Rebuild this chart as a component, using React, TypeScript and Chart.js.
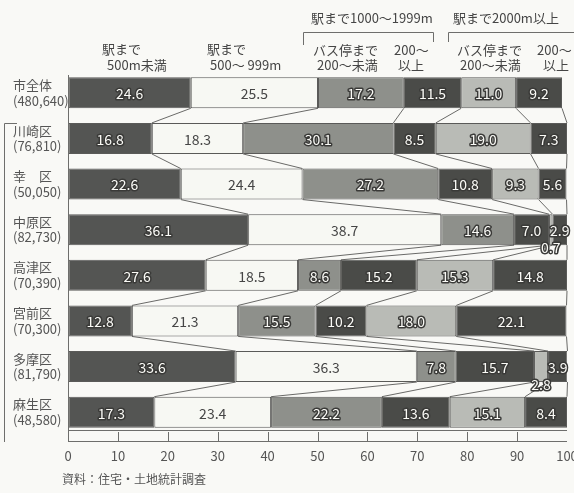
import { useEffect, useRef } from "react";
import { Chart, registerables } from "chart.js";

Chart.register(...registerables);

const FONT = '"Noto Sans CJK JP", "Noto Sans", sans-serif';

// 区名と世帯数
const districts: string[][] = [
  ["市全体", "(480,640)"],
  ["川崎区", "(76,810)"],
  ["幸　区", "(50,050)"],
  ["中原区", "(82,730)"],
  ["高津区", "(70,390)"],
  ["宮前区", "(70,300)"],
  ["多摩区", "(81,790)"],
  ["麻生区", "(48,580)"],
];

// 駅までの距離・バス停までの距離別の割合 (%)
const station500Under = [24.6, 16.8, 22.6, 36.1, 27.6, 12.8, 33.6, 17.3];
const station500To999 = [25.5, 18.3, 24.4, 38.7, 18.5, 21.3, 36.3, 23.4];
const station1000BusNear = [17.2, 30.1, 27.2, 14.6, 8.6, 15.5, 7.8, 22.2];
const station1000BusFar = [11.5, 8.5, 10.8, 7.0, 15.2, 10.2, 15.7, 13.6];
const station2000BusNear = [11.0, 19.0, 9.3, 0.7, 15.3, 18.0, 2.8, 15.1];
const station2000BusFar = [9.2, 7.3, 5.6, 2.9, 14.8, 22.1, 3.9, 8.4];

const xTickStep = 10;
const sourceNote = "資料：住宅・土地統計調査";

const seriesStyles = [
  { data: station500Under, fill: "#545553", text: "outline" },
  { data: station500To999, fill: "#f7f8f3", text: "plain" },
  { data: station1000BusNear, fill: "#8e908b", text: "outline" },
  { data: station1000BusFar, fill: "#4a4b48", text: "outline" },
  { data: station2000BusNear, fill: "#b9bbb6", text: "outline" },
  { data: station2000BusFar, fill: "#4a4b48", text: "outline" },
];

// 細い区分の数値は棒の下側へずらして表示する
const labelsBelowBar: Record<string, number> = { "4-3": 17, "4-6": 17 };

const backgroundPlugin = {
  id: "paper",
  beforeDraw(chart: Chart) {
    const { ctx, width, height } = chart;
    ctx.save();
    ctx.fillStyle = "#f9f9f6";
    ctx.fillRect(0, 0, width, height);
    ctx.restore();
  },
};

// 隣り合う棒の区切り位置を結ぶ線
const connectorPlugin = {
  id: "connectors",
  beforeDatasetsDraw(chart: Chart) {
    const ctx = chart.ctx;
    const metas = chart.data.datasets.map((_, i) => chart.getDatasetMeta(i));
    const rows = districts.length;
    ctx.save();
    ctx.strokeStyle = "#6a6a68";
    ctx.lineWidth = 1;
    for (let r = 0; r < rows - 1; r++) {
      for (let k = 0; k < metas.length; k++) {
        const a: any = metas[k].data[r];
        const b: any = metas[k].data[r + 1];
        ctx.beginPath();
        ctx.moveTo(a.x, a.y + a.height / 2);
        ctx.lineTo(b.x, b.y - b.height / 2);
        ctx.stroke();
      }
    }
    ctx.restore();
  },
};

const valueLabelPlugin = {
  id: "valueLabels",
  afterDatasetsDraw(chart: Chart) {
    const ctx = chart.ctx;
    ctx.save();
    ctx.textAlign = "center";
    ctx.textBaseline = "middle";
    ctx.lineJoin = "round";
    chart.data.datasets.forEach((ds: any, di) => {
      const meta = chart.getDatasetMeta(di);
      meta.data.forEach((el: any, i) => {
        const v = ds.data[i] as number;
        const cx = (el.x + el.base) / 2;
        const cy = el.y + 1 + (labelsBelowBar[`${di}-${i}`] || 0);
        const text = v.toFixed(1);
        ctx.font = `14px ${FONT}`;
        if (seriesStyles[di].text === "plain") {
          ctx.fillStyle = "#454545";
          ctx.fillText(text, cx, cy);
        } else {
          ctx.lineWidth = 3;
          ctx.strokeStyle = "#3a3a38";
          ctx.strokeText(text, cx, cy);
          ctx.fillStyle = "#fbfbf7";
          ctx.fillText(text, cx, cy);
        }
      });
    });
    ctx.restore();
  },
};

// 目盛りの帯、縦軸線、見出し、左の括弧、資料名
const framePlugin = {
  id: "frame",
  afterDraw(chart: Chart) {
    const { ctx, chartArea } = chart;
    const xScale: any = chart.scales.x;
    const left = chartArea.left;
    const right = xScale.getPixelForValue(100);
    const rulerTop = chartArea.bottom - 5;
    const rulerBottom = chartArea.bottom + 6;
    ctx.save();
    ctx.strokeStyle = "#6e6e6c";
    ctx.lineWidth = 1;
    ctx.beginPath();
    ctx.moveTo(left + 0.5, chartArea.top + 5);
    ctx.lineTo(left + 0.5, rulerBottom);
    ctx.moveTo(left, rulerTop + 0.5);
    ctx.lineTo(right, rulerTop + 0.5);
    ctx.moveTo(left, rulerBottom + 0.5);
    ctx.lineTo(right, rulerBottom + 0.5);
    for (let v = xTickStep; v < 100; v += xTickStep) {
      const px = Math.round(xScale.getPixelForValue(v)) + 0.5;
      ctx.moveTo(px, rulerTop + 2);
      ctx.lineTo(px, rulerBottom);
    }
    ctx.stroke();

    // 区の括弧
    ctx.beginPath();
    ctx.moveTo(17, 123.5);
    ctx.lineTo(4.5, 123.5);
    ctx.lineTo(4.5, 442);
    ctx.stroke();

    // 見出しの括弧
    ctx.beginPath();
    ctx.moveTo(303.5, 45);
    ctx.lineTo(303.5, 32.5);
    ctx.lineTo(433.5, 32.5);
    ctx.lineTo(433.5, 42);
    ctx.moveTo(448.5, 42);
    ctx.lineTo(448.5, 32.5);
    ctx.lineTo(574, 32.5);
    ctx.stroke();

    ctx.fillStyle = "#454545";
    ctx.textAlign = "left";
    ctx.textBaseline = "middle";
    ctx.font = `13px ${FONT}`;
    const headers: [string, number, number][] = [
      ["駅まで1000～1999m", 311, 18],
      ["駅まで2000m以上", 453, 18],
      ["駅まで", 102, 49],
      ["500m未満", 107, 65],
      ["駅まで", 207, 49],
      ["500～ 999m", 210, 65],
      ["バス停まで", 313, 50],
      ["200～未満", 317, 65],
      ["200～", 394, 50],
      ["以上", 398, 65],
      ["バス停まで", 457, 50],
      ["200～未満", 460, 65],
      ["200～", 537, 50],
      ["以上", 543, 65],
    ];
    headers.forEach(([t, x, y]) => ctx.fillText(t, x, y));

    ctx.font = `12px ${FONT}`;
    ctx.fillStyle = "#555";
    ctx.fillText(sourceNote, 62, 479);
    ctx.restore();
  },
};

export default function App() {
  const canvasRef = useRef<HTMLCanvasElement | null>(null);

  useEffect(() => {
    const canvas = canvasRef.current;
    if (!canvas) return;
    const chart = new Chart(canvas, {
      type: "bar",
      data: {
        labels: districts,
        datasets: seriesStyles.map((s) => ({
          data: s.data,
          backgroundColor: s.fill,
          borderColor: "#5a5a58",
          borderWidth: 1,
          borderSkipped: false,
          barPercentage: 0.68,
          categoryPercentage: 1,
        })),
      },
      options: {
        indexAxis: "y",
        responsive: false,
        animation: false,
        devicePixelRatio: 1,
        layout: { padding: { top: 70, left: 13, right: 7, bottom: 0 } },
        plugins: {
          legend: { display: false },
          tooltip: { enabled: false },
        },
        scales: {
          x: {
            stacked: true,
            min: 0,
            max: 100,
            border: { display: false },
            grid: {
              display: true,
              drawOnChartArea: false,
              drawTicks: true,
              tickLength: 8,
              color: "rgba(0,0,0,0)",
            },
            ticks: {
              stepSize: xTickStep,
              color: "#555",
              padding: 5,
              font: { family: FONT, size: 13 },
            },
            afterFit(scale: any) {
              scale.height = 58;
              scale.paddingLeft = 0;
              scale.paddingRight = 0;
            },
          },
          y: {
            stacked: true,
            border: { display: false },
            grid: { display: false },
            ticks: {
              crossAlign: "far",
              color: "#555",
              font: { family: FONT, size: 13, lineHeight: 1.2 },
            },
            afterFit(scale: any) {
              scale.width = 55;
            },
          },
        },
      },
      plugins: [backgroundPlugin, connectorPlugin, valueLabelPlugin, framePlugin],
    });
    return () => chart.destroy();
  }, []);

  return (
    <div style={{ position: "absolute", left: 0, top: 0, width: 574, height: 493 }}>
      <canvas ref={canvasRef} width={574} height={493} />
    </div>
  );
}
